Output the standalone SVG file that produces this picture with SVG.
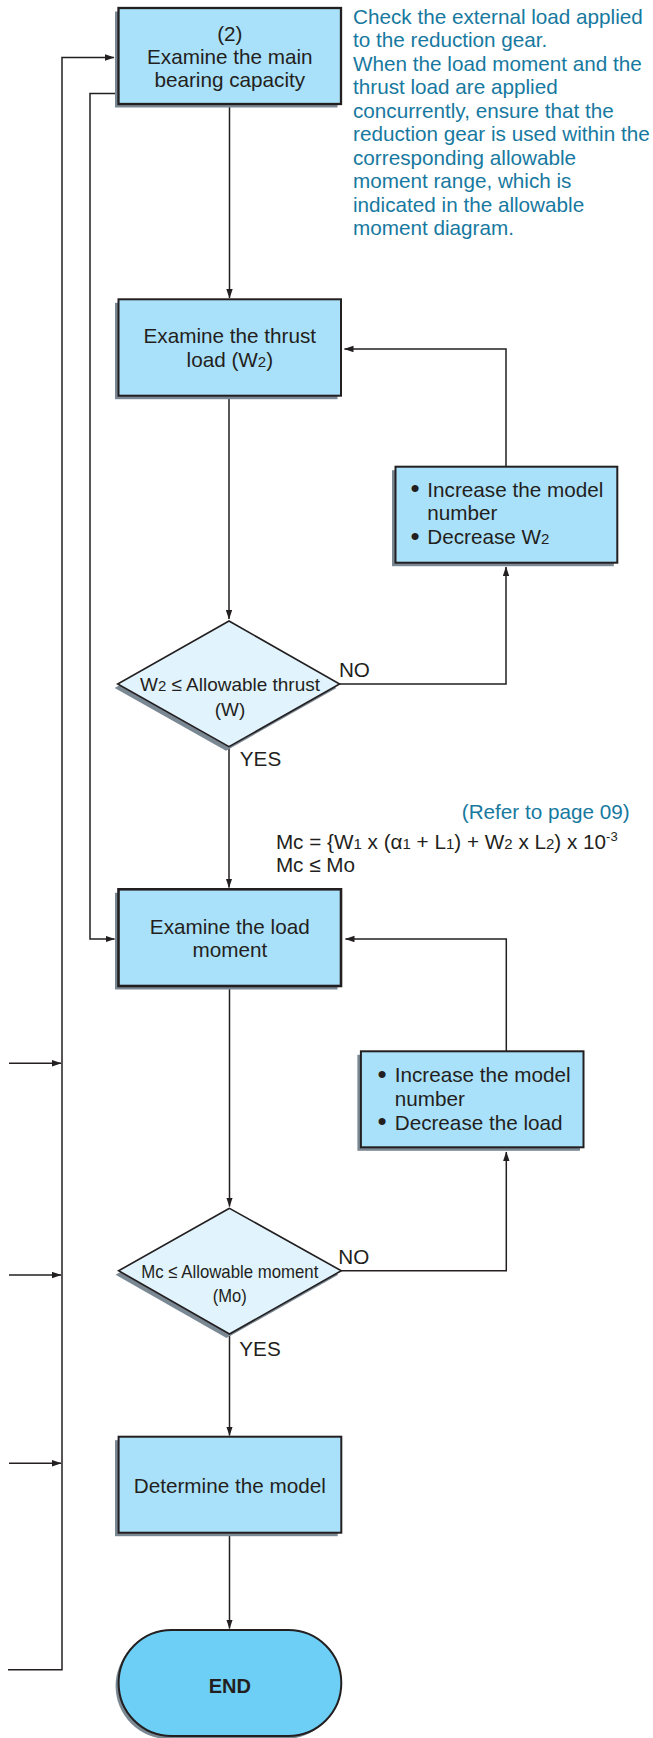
<svg xmlns="http://www.w3.org/2000/svg" width="653" height="1738" viewBox="0 0 653 1738">
<style>
  .box{fill:#aae1fa;stroke:#231f20;stroke-width:2}
  .thick{stroke-width:2.6}
  .dia{fill:#e1f4fd;stroke:#231f20;stroke-width:1.6}
  .end{fill:#6dcff6;stroke:#231f20;stroke-width:2}
  .sh{fill:#7a8893}
  .t{font-family:"Liberation Sans",Arial,Helvetica,sans-serif;font-size:20.7px;fill:#231f20}
  .c{text-anchor:middle}
  .blue{fill:#1779a0}
  .sub{font-size:15px}
  .conn path{fill:none;stroke:#231f20;stroke-width:1.5}
</style>
<defs>
  <marker id="ah" markerWidth="10" markerHeight="7" refX="9" refY="3.2" orient="auto" markerUnits="userSpaceOnUse">
    <path d="M0,0 L9.5,3.2 L0,6.4 z" fill="#231f20"/>
  </marker>
</defs>
<rect width="653" height="1738" fill="#ffffff"/>

<g id="connectors" class="conn">
  <path d="M229.5,104 V298" marker-end="url(#ah)"/>
  <path d="M229,396 V619" marker-end="url(#ah)"/>
  <path d="M229,747 V887.5" marker-end="url(#ah)"/>
  <path d="M339.6,684 H506 V567" marker-end="url(#ah)"/>
  <path d="M506,466.7 V349 H344.5" marker-end="url(#ah)"/>
  <path d="M229.5,986 V1206.5" marker-end="url(#ah)"/>
  <path d="M341.3,1270.7 H506.3 V1152" marker-end="url(#ah)"/>
  <path d="M506.3,1051.3 V939 H345.5" marker-end="url(#ah)"/>
  <path d="M229.5,1334 V1435.5" marker-end="url(#ah)"/>
  <path d="M229.5,1533 V1628.5" marker-end="url(#ah)"/>
  <path d="M8,1669.7 H62 V57.5 H114" marker-end="url(#ah)"/>
  <path d="M115,93.5 H90 V939 H114.5" marker-end="url(#ah)"/>
  <path d="M9,1063.3 H61" marker-end="url(#ah)"/>
  <path d="M9,1275 H61" marker-end="url(#ah)"/>
  <path d="M9,1463.3 H61" marker-end="url(#ah)"/>
</g>

<g id="node-main-bearing">
  <rect class="sh" x="115" y="11.5" width="222.5" height="96"/>
  <rect class="box" x="118.5" y="8" width="222.5" height="96" style="stroke-width:2.3"/>
  <text class="t c" x="229.8" y="40.6">(2)</text>
  <text class="t c" x="229.8" y="63.9">Examine the main</text>
  <text class="t c" x="229.8" y="87.2">bearing capacity</text>
</g>

<g id="note-external-load">
  <text class="t blue" x="353" y="23.5">Check the external load applied</text>
  <text class="t blue" x="353" y="47">to the reduction gear.</text>
  <text class="t blue" x="353" y="70.5">When the load moment and the</text>
  <text class="t blue" x="353" y="94">thrust load are applied</text>
  <text class="t blue" x="353" y="117.5">concurrently, ensure that the</text>
  <text class="t blue" x="353" y="141">reduction gear is used within the</text>
  <text class="t blue" x="353" y="164.5">corresponding allowable</text>
  <text class="t blue" x="353" y="188">moment range, which is</text>
  <text class="t blue" x="353" y="211.5">indicated in the allowable</text>
  <text class="t blue" x="353" y="235">moment diagram.</text>
</g>

<g id="node-thrust">
  <rect class="sh" x="115" y="302.8" width="222.5" height="96.4"/>
  <rect class="box" x="118.5" y="299.3" width="222.5" height="96.4"/>
  <text class="t c" x="229.8" y="343.4">Examine the thrust</text>
  <text class="t c" x="229.8" y="366.7">load (W<tspan class="sub">2</tspan>)</text>
</g>

<g id="node-fix-thrust">
  <rect class="sh" x="392" y="470.2" width="221.8" height="96"/>
  <rect class="box" x="395.5" y="466.7" width="221.8" height="96"/>
  <text class="t" x="410.5" y="497"><tspan style="font-size:26px">•</tspan></text>
  <text class="t" x="427.3" y="496.7">Increase the model</text>
  <text class="t" x="427.3" y="520.2">number</text>
  <text class="t" x="410.5" y="544.6"><tspan style="font-size:26px">•</tspan></text>
  <text class="t" x="427.3" y="544.2">Decrease W<tspan class="sub">2</tspan></text>
</g>

<g id="node-thrust-check">
  <polygon class="sh" points="226,625 114.7,688 226,750.7 336.6,688"/>
  <polygon class="dia" points="229,621 117.7,684 229,746.7 339.6,684"/>
  <text class="t c" x="230" y="691" style="font-size:19px" textLength="180" lengthAdjust="spacingAndGlyphs">W<tspan class="sub">2</tspan> ≤ Allowable thrust</text>
  <text class="t c" x="230" y="715.5" style="font-size:19px">(W)</text>
  <text class="t" x="338.9" y="677.3">NO</text>
  <text class="t" x="239.8" y="765.6">YES</text>
</g>

<g id="note-formula">
  <text class="t blue" x="629.7" y="819" text-anchor="end">(Refer to page 09)</text>
  <text class="t" x="275.9" y="849">Mc = {W<tspan class="sub">1</tspan> x (α<tspan class="sub">1</tspan> + L<tspan class="sub">1</tspan>) + W<tspan class="sub">2</tspan> x L<tspan class="sub">2</tspan>) x 10<tspan style="font-size:13px" dy="-8">-3</tspan></text>
  <text class="t" x="275.9" y="872.3">Mc ≤ Mo</text>
</g>

<g id="node-load-moment">
  <rect class="sh" x="115" y="892.8" width="222.5" height="96.7"/>
  <rect class="box thick" x="118.5" y="889.3" width="222.5" height="96.7"/>
  <text class="t c" x="229.8" y="934">Examine the load</text>
  <text class="t c" x="229.8" y="957.3">moment</text>
</g>

<g id="node-fix-load">
  <rect class="sh" x="357.4" y="1054.8" width="222.6" height="96"/>
  <rect class="box" x="360.9" y="1051.3" width="222.6" height="96"/>
  <text class="t" x="377.4" y="1082.7"><tspan style="font-size:26px">•</tspan></text>
  <text class="t" x="394.7" y="1082.4">Increase the model</text>
  <text class="t" x="394.7" y="1106">number</text>
  <text class="t" x="377.4" y="1130"><tspan style="font-size:26px">•</tspan></text>
  <text class="t" x="394.7" y="1129.7">Decrease the load</text>
</g>

<g id="node-moment-check">
  <polygon class="sh" points="226.5,1212.3 115.6,1274.7 226.5,1338 338.3,1274.7"/>
  <polygon class="dia" points="229.5,1208.3 118.6,1270.7 229.5,1334 341.3,1270.7"/>
  <text class="t c" x="229.8" y="1277.7" style="font-size:19px" textLength="177" lengthAdjust="spacingAndGlyphs">Mc ≤ Allowable moment</text>
  <text class="t c" x="229.8" y="1302" style="font-size:19px" textLength="34" lengthAdjust="spacingAndGlyphs">(Mo)</text>
  <text class="t" x="338.3" y="1264">NO</text>
  <text class="t" x="239.3" y="1355.6">YES</text>
</g>

<g id="node-determine">
  <rect class="sh" x="115" y="1440.2" width="222.7" height="96"/>
  <rect class="box" x="118.6" y="1436.7" width="222.7" height="96"/>
  <text class="t c" x="229.8" y="1493.4">Determine the model</text>
</g>

<g id="node-end">
  <rect class="sh" x="115.6" y="1633" width="222.7" height="106" rx="53" ry="53"/>
  <rect class="end" x="118.6" y="1630" width="222.7" height="106" rx="53" ry="53"/>
  <text class="t c" x="229.8" y="1693.4" style="font-size:20px;font-weight:bold">END</text>
</g>
</svg>
